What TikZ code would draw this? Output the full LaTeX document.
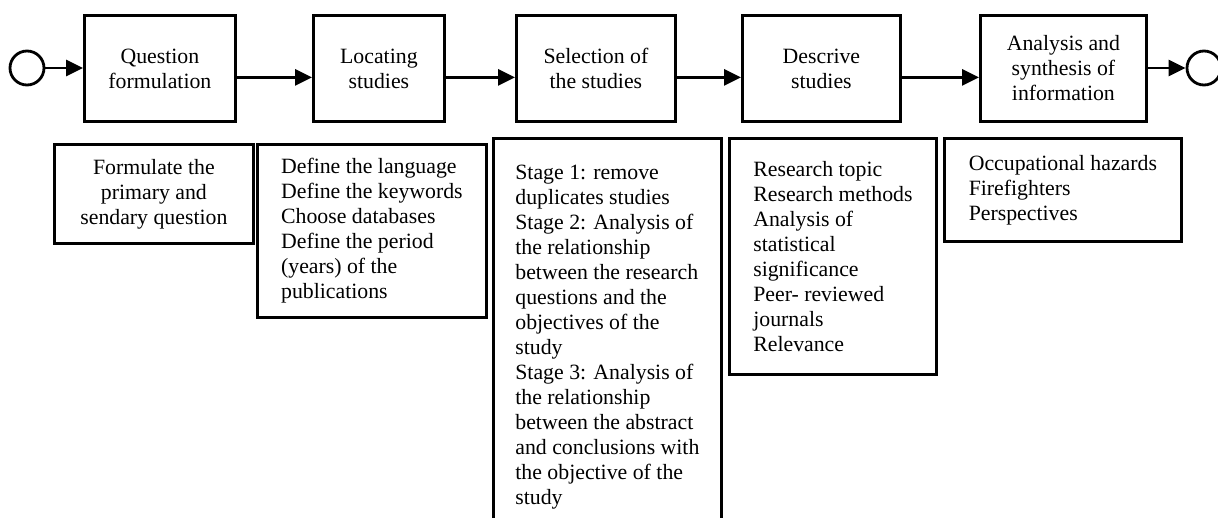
\documentclass[tikz,border=0pt]{standalone}
\usepackage{fontspec}
\setmainfont{Liberation Serif}
\usetikzlibrary{arrows.meta,positioning}

\begin{document}
\begin{tikzpicture}[
  x=1pt, y=1pt,
  font=\fontsize{21.8}{25}\selectfont,
  phase/.style={draw, line width=2.8pt, align=center, anchor=north west, minimum height=106pt, inner sep=4pt},
  detail/.style={draw, line width=2.8pt, align=left, anchor=north west, inner sep=4pt},
  terminal/.style={draw, circle, line width=2.8pt, minimum size=34pt, inner sep=0pt},
  arrow/.style={-{Triangle[length=17pt, width=16pt]}, line width=2.9pt}
]
\useasboundingbox (0,0) rectangle (1218,-517);
% process phases
\node[terminal] (start) at (27,-68) {};
\node[phase, minimum width=151pt] (question) at (83,-14) {Question\\formulation};
\node[phase, minimum width=131pt] (locating) at (312,-14) {Locating\\studies};
\node[phase, minimum width=159pt] (selection) at (515,-14) {Selection of\\the studies};
\node[phase, minimum width=158pt] (descrive) at (741,-14) {Descrive\\studies};
\node[phase, minimum width=166pt] (synthesis) at (979,-14) {Analysis and\\synthesis of\\information};
\node[terminal] (finish) at (1204,-68) {};
% details of each phase
\node[detail, align=center, minimum width=199pt, minimum height=99pt] (formulate) at (53,-143) {Formulate the\\primary and\\sendary question};
\node[detail, minimum width=229pt, minimum height=173pt] (define) at (256,-143) {Define the language\\Define the keywords\\Choose databases\\Define the period\\(years) of the\\publications};
\node[detail, minimum width=228pt, minimum height=397pt] (stages) at (492,-137) {Stage 1: remove\\duplicates studies\\Stage 2: Analysis of\\the relationship\\between the research\\questions and the\\objectives of the\\study\\Stage 3: Analysis of\\the relationship\\between the abstract\\and conclusions with\\the objective of the\\study};
\node[detail, minimum width=207pt, minimum height=236pt] (topics) at (728,-137) {Research topic\\Research methods\\Analysis of\\statistical\\significance\\Peer- reviewed\\journals\\Relevance};
\node[detail, minimum width=237pt, minimum height=103pt] (hazards) at (943,-137) {Occupational hazards\\Firefighters\\Perspectives};
\draw[arrow] (start) -- (start -| question.west);
\draw[arrow] ([yshift=-9pt]question.east) -- ([yshift=-9pt]locating.west);
\draw[arrow] ([yshift=-9pt]locating.east) -- ([yshift=-9pt]selection.west);
\draw[arrow] ([yshift=-9pt]selection.east) -- ([yshift=-9pt]descrive.west);
\draw[arrow] ([yshift=-9pt]descrive.east) -- ([yshift=-9pt]synthesis.west);
\draw[arrow] (synthesis.east |- finish) -- (finish);
\end{tikzpicture}
\end{document}
